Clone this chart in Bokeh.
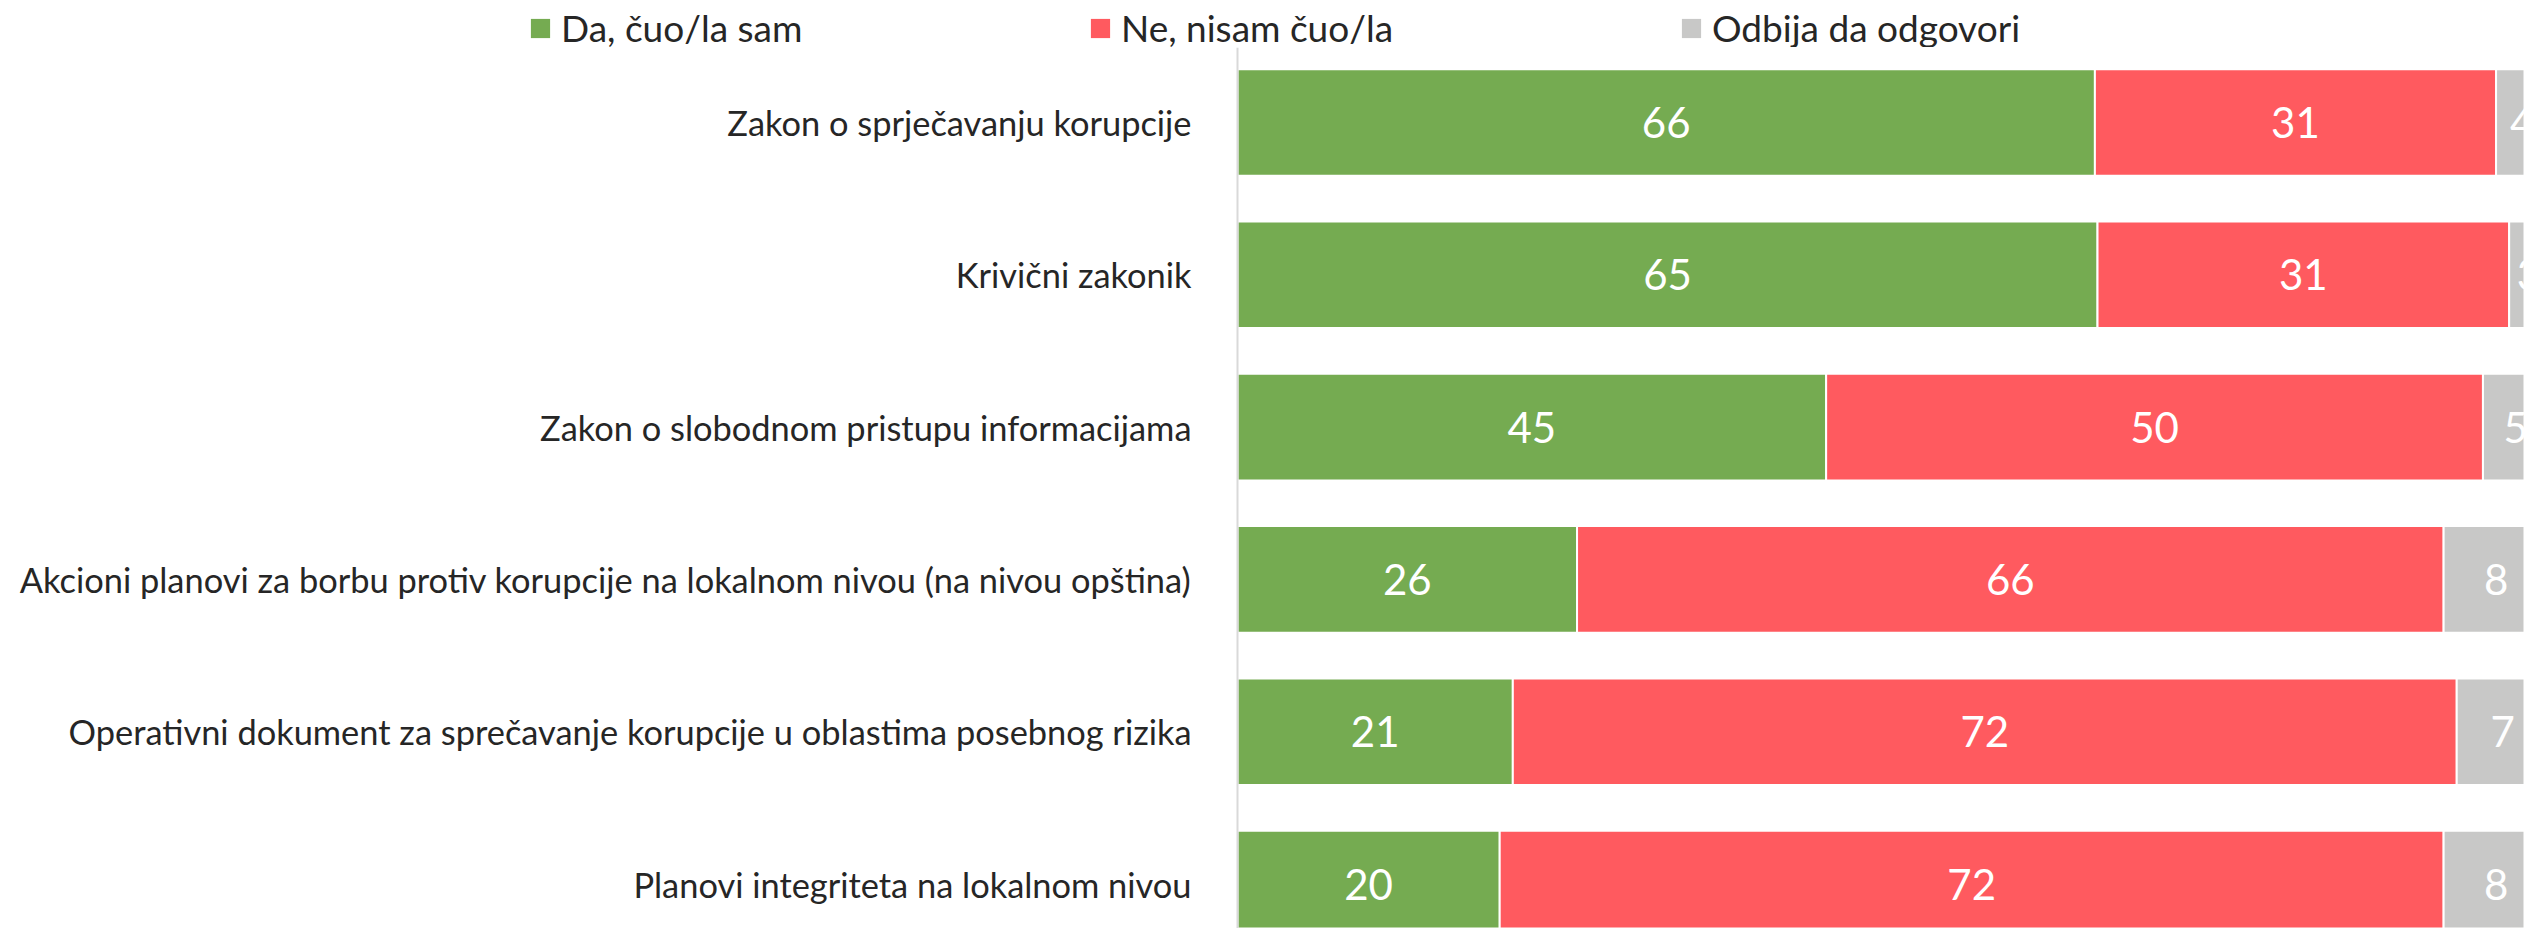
from bokeh.plotting import figure
from bokeh.layouts import column
from bokeh.models import Range1d, Legend, LegendItem, ColumnDataSource, Span
from bokeh.embed import file_html
from bokeh.resources import INLINE
from bokeh.core.properties import value

categories = [
    "Zakon o sprječavanju korupcije",
    "Krivični zakonik",
    "Zakon o slobodnom pristupu informacijama",
    "Akcioni planovi za borbu protiv korupcije na lokalnom nivou (na nivou opština)",
    "Operativni dokument za sprečavanje korupcije u oblastima posebnog rizika",
    "Planovi integriteta na lokalnom nivou",
]
series_names = ["Da, čuo/la sam", "Ne, nisam čuo/la", "Odbija da odgovori"]
da = [65.4, 65.6, 44.9, 25.9, 21.0, 20.0]
ne = [30.6, 31.4, 50.1, 66.1, 72.0, 72.0]
odbija = [4.0, 3.0, 5.0, 8.0, 7.0, 8.0]
da_labels = [66, 65, 45, 26, 21, 20]
ne_labels = [31, 31, 50, 66, 72, 72]
odbija_labels = [4, 3, 5, 8, 7, 8]
colors = ["#75AB51", "#FF5A5F", "#C8C8C7"]

FONT = "Lato"
W = 2524
LEG_H = 47
MAIN_H = 928 - LEG_H
AXIS_PX = 1237          # screen x of the value axis
PX_PER_UNIT = 13.11
n = len(categories)
ys = list(range(n))

# ---- legend strip ----
lg = figure(width=W, height=LEG_H, output_backend="svg", toolbar_location=None,
            x_range=Range1d(0, 1), y_range=Range1d(0, 1),
            min_border_left=0, min_border_right=0, min_border_top=0, min_border_bottom=0)
lg.axis.visible = False
lg.grid.visible = False
lg.outline_line_color = None
legend_x = [528, 1088, 1679]
for name, col, lx in zip(series_names, colors, legend_x):
    dummy = lg.hbar(y=[5], left=[5], right=[6], height=0.5, fill_color=col,
                    line_color=None)
    leg = Legend(items=[LegendItem(label=name, renderers=[dummy])], location=(lx, -3),
                 padding=0, margin=0, border_line_color=None, background_fill_alpha=0,
                 glyph_width=24, glyph_height=24, label_standoff=9,
                 label_text_font=FONT, label_text_font_size="37px", label_text_color="#262626")
    lg.add_layout(leg)

# ---- main chart ----
x_start = -AXIS_PX / PX_PER_UNIT
x_end = (W - AXIS_PX) / PX_PER_UNIT
p = figure(width=W, height=MAIN_H, output_backend="svg", toolbar_location=None,
           x_range=Range1d(x_start, x_end), y_range=Range1d(n - 1 + 0.292, -0.4925),
           min_border_left=0, min_border_right=0, min_border_top=0, min_border_bottom=0)
p.axis.visible = False
p.grid.visible = False
p.outline_line_color = None

p.add_layout(Span(location=0, dimension="height", line_color="#D9D9D9", line_width=2))

p.text(x=[0] * n, y=ys, text=categories, x_offset=-46, text_align="right",
       text_baseline="middle", text_color="#262626", text_font=value(FONT),
       text_font_size="34.4px")

left = [0.0] * n
for vals, labs, col in zip([da, ne, odbija], [da_labels, ne_labels, odbija_labels], colors):
    right = [l + v for l, v in zip(left, vals)]
    src = ColumnDataSource(dict(
        y=ys, left=left, right=right,
        mid=[(l + r) / 2 for l, r in zip(left, right)],
        lab=[str(x) for x in labs]))
    p.hbar(y="y", left="left", right="right", height=0.70, fill_color=col,
           line_color="white", line_width=2, source=src)
    p.text(x="mid", y="y", text="lab", text_align="center", text_baseline="middle",
           text_color="white", text_font=value(FONT), text_font_size="42px", source=src)
    left = right

layout = column(lg, p, spacing=0)
open("out.html", "w").write(file_html(layout, INLINE))
